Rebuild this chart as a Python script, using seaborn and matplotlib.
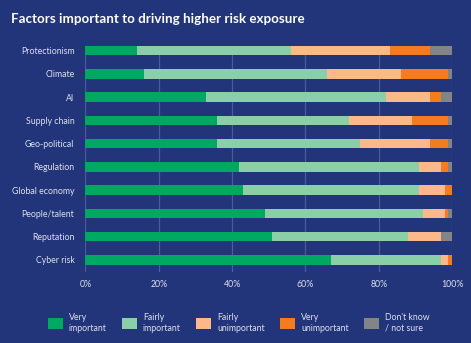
import matplotlib
matplotlib.use("Agg")
import matplotlib.pyplot as plt
from matplotlib.patches import Patch
import numpy as np
import pandas as pd
import seaborn as sns

categories = ["Protectionism", "Climate", "AI", "Supply chain", "Geo-political",
              "Regulation", "Global economy", "People/talent", "Reputation", "Cyber risk"]
very_important = [14, 16, 33, 36, 36, 42, 43, 49, 51, 67]
fairly_important = [42, 50, 49, 36, 39, 49, 48, 43, 37, 30]
fairly_unimportant = [27, 20, 12, 17, 19, 6, 7, 6, 9, 2]
very_unimportant = [11, 13, 3, 10, 5, 2, 2, 1, 0, 1]
dont_know = [6, 1, 3, 1, 1, 1, 0, 1, 3, 0]

series_names = ["Very\nimportant", "Fairly\nimportant", "Fairly\nunimportant",
                "Very\nunimportant", "Don't know\n/ not sure"]
series_values = [very_important, fairly_important, fairly_unimportant,
                 very_unimportant, dont_know]
colors = ["#00A862", "#8BCFA9", "#FBB98A", "#F47C20", "#838487"]
x_ticks = [0, 20, 40, 60, 80, 100]
x_tick_labels = ["0%", "20%", "40%", "60%", "80%", "100%"]

BG = "#22347A"
TEXT = "#DDE1EE"

sns.set_theme(style="white")
plt.rcParams["font.family"] = ["Lato", "DejaVu Sans"]

df = pd.DataFrame({"category": categories})
cum = np.zeros(len(categories))
for name, vals in zip(series_names, series_values):
    cum = cum + np.array(vals)
    df[name] = cum.copy()

fig = plt.figure(figsize=(4.71, 3.43), dpi=100, facecolor=BG)
ax = fig.add_axes([0.1815, 0.207, 0.9597 - 0.1815, 0.866 - 0.207])
ax.set_facecolor(BG)

# stacked bars: cumulative totals drawn from the outermost segment inward
for name, col in reversed(list(zip(series_names, colors))):
    sns.barplot(data=df, x=name, y="category", color=col, orient="h",
                width=0.4, linewidth=0, saturation=1, ax=ax, zorder=3)

ax.set_xlim(0, 100)
ax.set_ylim(9.52, -0.2)
ax.set_xticks(x_ticks)
ax.set_xticklabels(x_tick_labels)
ax.set_xlabel("")
ax.set_ylabel("")
ax.grid(axis="x", color="#4B5B98", linewidth=0.9, zorder=0)
ax.set_axisbelow(True)
for s in ax.spines.values():
    s.set_visible(False)
ax.tick_params(axis="both", length=0, colors=TEXT, labelsize=6.3)
ax.tick_params(axis="y", pad=8)
ax.tick_params(axis="x", pad=6)

fig.text(0.023, 1 - 19 / 343, "Factors important to driving higher risk exposure",
         color="white", fontsize=9.6, fontweight="bold", va="center", ha="left")

handles = [Patch(facecolor=c, edgecolor="none") for c in colors]
fig.legend(handles, series_names, loc="center", bbox_to_anchor=(0.507, 1 - 323 / 343),
           ncol=5, frameon=False, fontsize=6.3, labelcolor=TEXT,
           handlelength=1.65, handleheight=1.65, handletextpad=0.7,
           columnspacing=1.8, labelspacing=0.15)

fig.savefig("out.png", dpi=100, facecolor=BG)
